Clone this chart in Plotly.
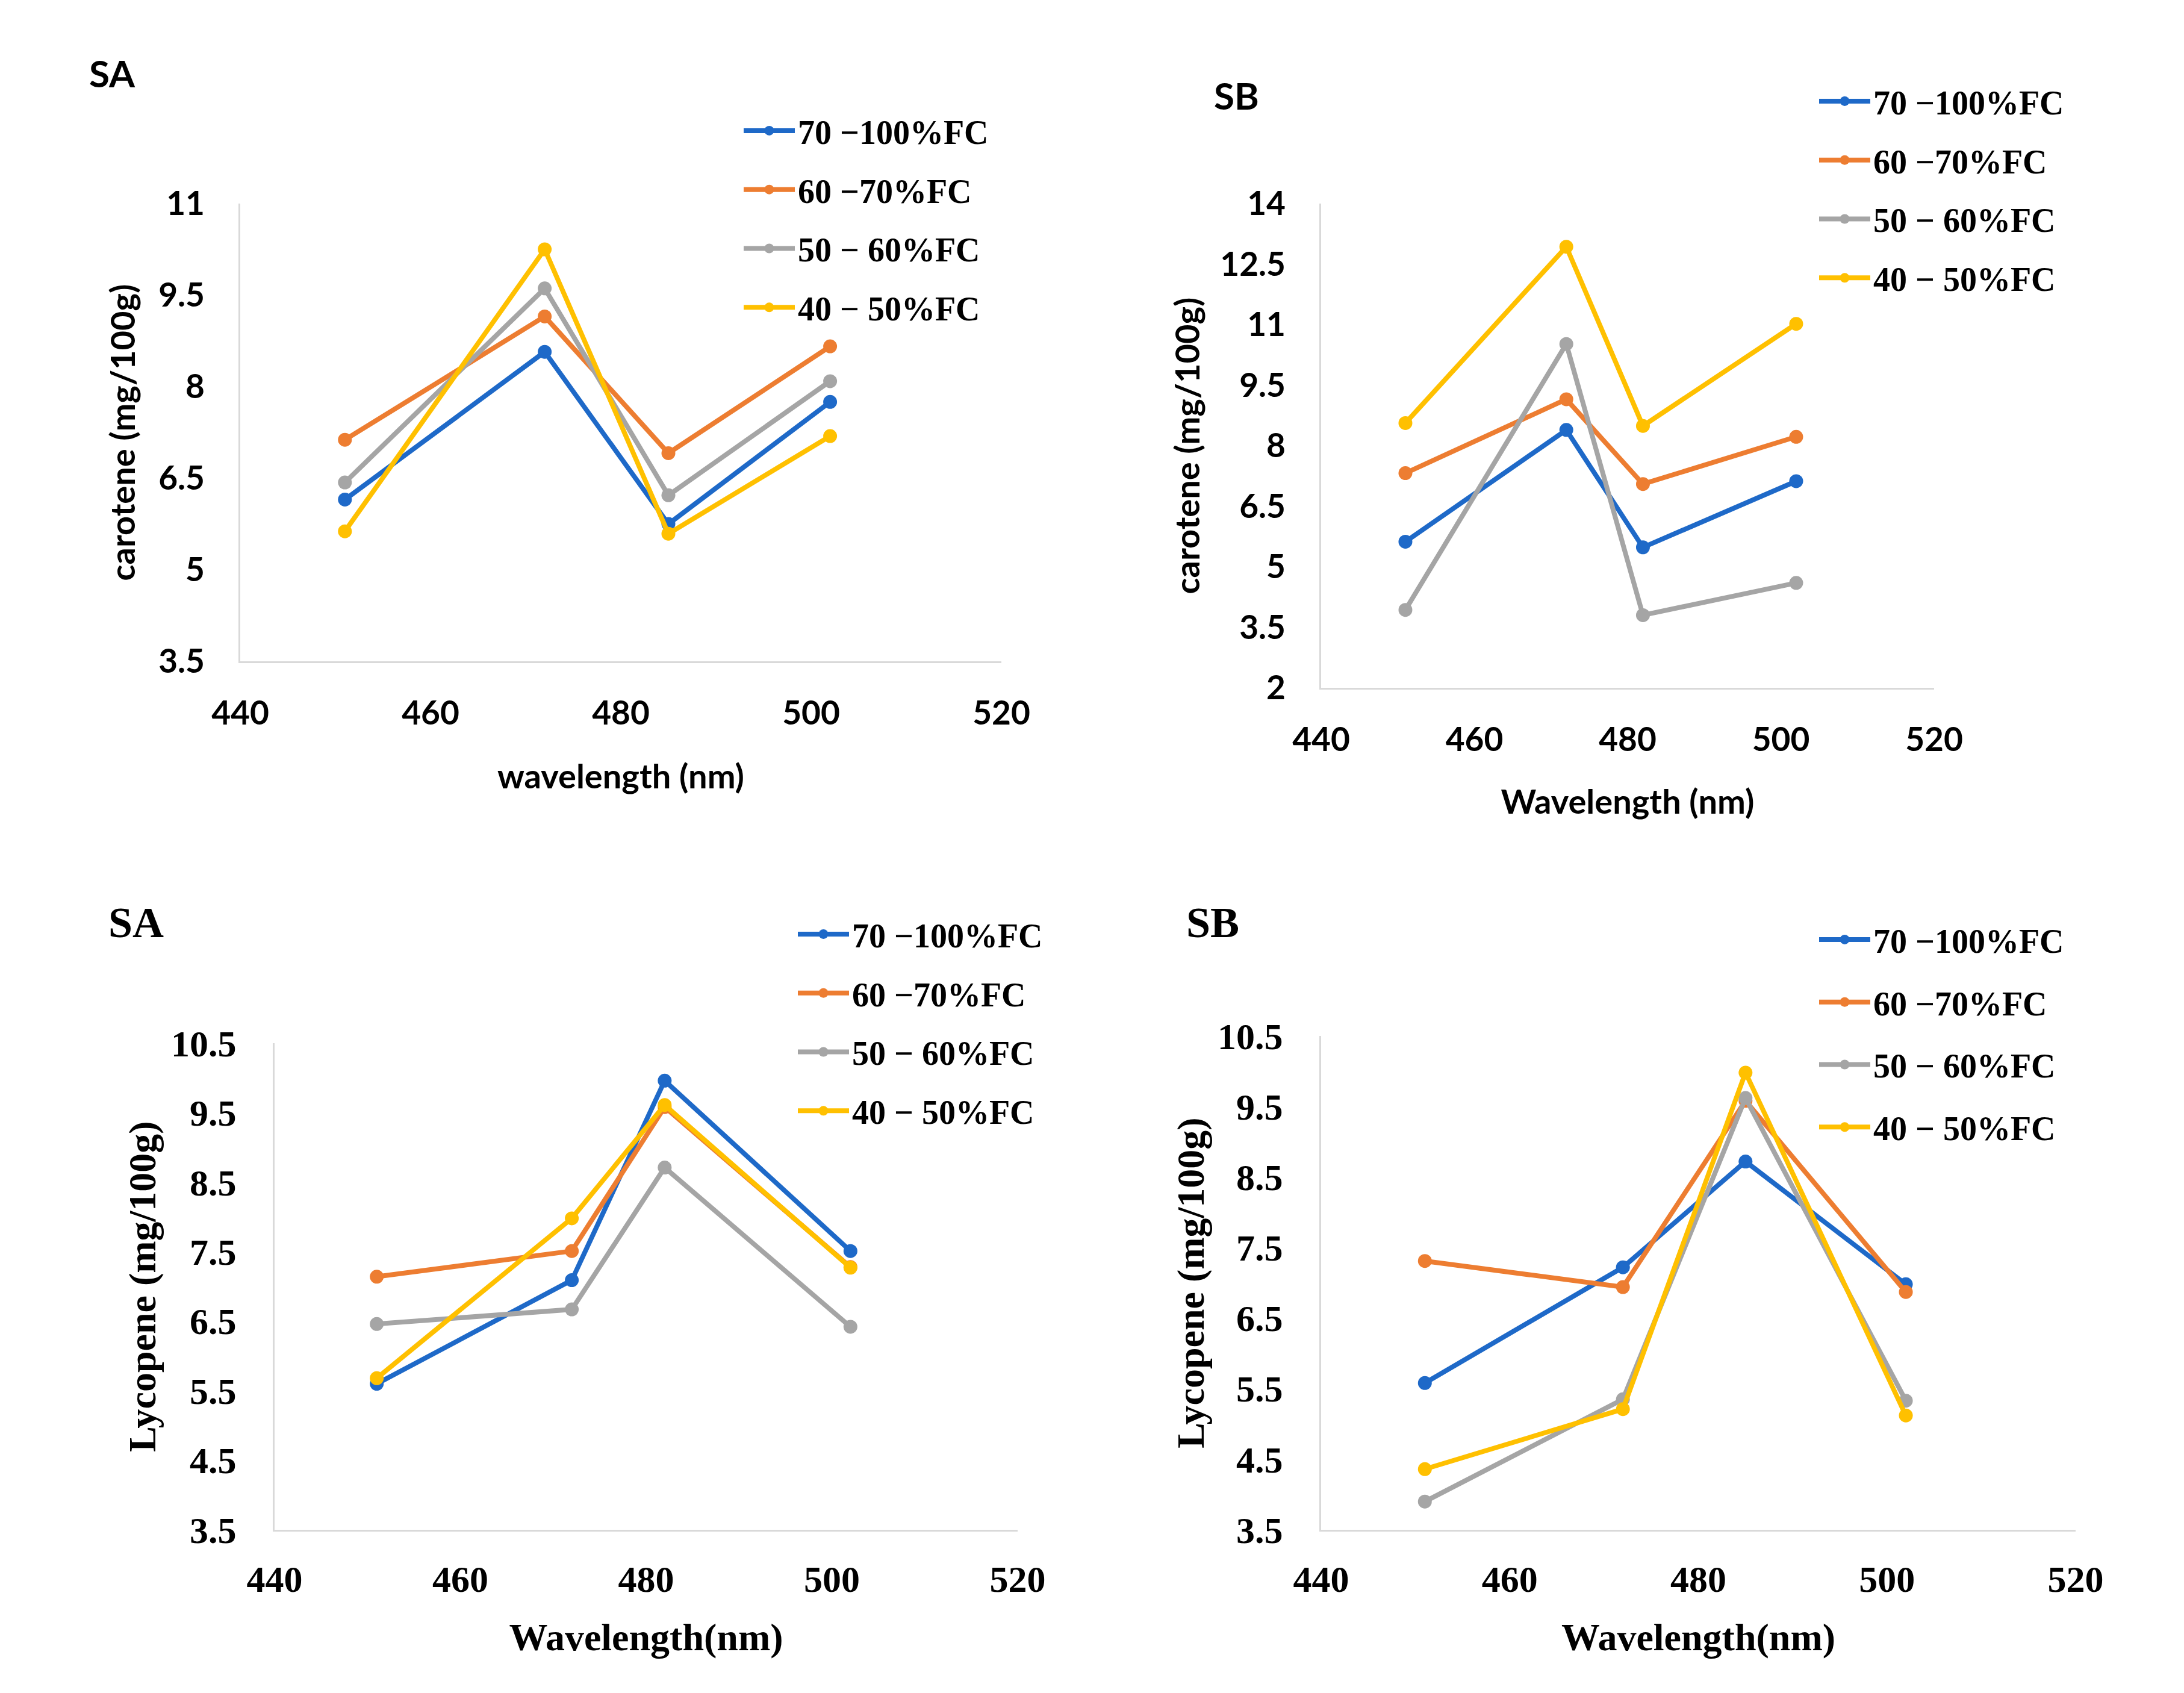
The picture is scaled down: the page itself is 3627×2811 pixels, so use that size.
import plotly.graph_objects as go

W, H = 3627, 2811
SHIFT = 8  # page offset compensation (px)

series_names = ["70 −100%FC", "60 −70%FC", "50 − 60%FC", "40 − 50%FC"]
colors = ["#1E69C8", "#ED7D31", "#A5A5A5", "#FFC000"]

# Carotene, SA
car_sa_x = [451, 472, 485, 502]
car_sa_100 = [6.15, 8.57, 5.75, 7.75]
car_sa_70 = [7.13, 9.15, 6.91, 8.66]
car_sa_60 = [6.43, 9.61, 6.22, 8.09]
car_sa_50 = [5.63, 10.25, 5.59, 7.19]

# Carotene, SB
car_sb_x = [451, 472, 482, 502]
car_sb_100 = [5.62, 8.39, 5.48, 7.12]
car_sb_70 = [7.32, 9.15, 7.05, 8.22]
car_sb_60 = [3.93, 10.52, 3.80, 4.60]
car_sb_50 = [8.56, 12.93, 8.49, 11.02]

# Lycopene, SA
lyc_sa_x = [451, 472, 482, 502]
lyc_sa_100 = [5.60, 7.09, 9.96, 7.51]
lyc_sa_70 = [7.14, 7.51, 9.58, 7.28]
lyc_sa_60 = [6.46, 6.67, 8.71, 6.42]
lyc_sa_50 = [5.68, 7.98, 9.61, 7.27]

# Lycopene, SB
lyc_sb_x = [451, 472, 485, 502]
lyc_sb_100 = [5.58, 7.22, 8.72, 6.98]
lyc_sb_70 = [7.31, 6.94, 9.58, 6.87]
lyc_sb_60 = [3.90, 5.35, 9.62, 5.33]
lyc_sb_50 = [4.36, 5.21, 9.98, 5.12]

SANS = "Lato"
SERIF = "Liberation Serif"


def fx(px):
    return (px - SHIFT) / W


def fy(py):
    return 1 - (py - SHIFT) / H


panels = [
    dict(x=car_sa_x, ys=[car_sa_100, car_sa_70, car_sa_60, car_sa_50]),
    dict(x=car_sb_x, ys=[car_sb_100, car_sb_70, car_sb_60, car_sb_50]),
    dict(x=lyc_sa_x, ys=[lyc_sa_100, lyc_sa_70, lyc_sa_60, lyc_sa_50]),
    dict(x=lyc_sb_x, ys=[lyc_sb_100, lyc_sb_70, lyc_sb_60, lyc_sb_50]),
]

fig = go.Figure()
for i, p in enumerate(panels):
    sfx = "" if i == 0 else str(i + 1)
    for j, (name, ys) in enumerate(zip(series_names, p["ys"])):
        fig.add_trace(go.Scatter(
            x=p["x"], y=ys, name=name, mode="lines+markers",
            line=dict(color=colors[j], width=8),
            marker=dict(color=colors[j], size=23),
            xaxis="x" + sfx, yaxis="y" + sfx,
            legend="legend" + sfx, legendgroup=f"g{i}_{j}",
            cliponaxis=False,
        ))


def xax(domain, anchor, title, family, tsize, lsize, standoff, tls):
    return dict(domain=domain, anchor=anchor, range=[440, 520], dtick=20, tick0=440,
                showline=True, linecolor="#D9D9D9", linewidth=3, showgrid=False,
                zeroline=False, ticks="", ticklabelstandoff=tls, automargin=False,
                tickfont=dict(family=family, size=tsize, color="black", weight="bold"),
                title=dict(text=title, standoff=standoff,
                           font=dict(family=family, size=lsize, color="black", weight="bold")))


def yax(domain, anchor, rng, dtick, title, family, tsize, lsize, standoff, tls):
    return dict(domain=domain, anchor=anchor, range=rng, dtick=dtick, tick0=rng[0],
                showline=True, linecolor="#D9D9D9", linewidth=3, showgrid=False,
                zeroline=False, ticks="", ticklabelstandoff=tls, automargin=False,
                tickfont=dict(family=family, size=tsize, color="black", weight="bold"),
                title=dict(text=title, standoff=standoff,
                           font=dict(family=family, size=lsize, color="black", weight="bold")))


def leg(x, y, gap=22):
    return dict(x=x, y=y, xanchor="left", yanchor="top", bgcolor="white",
                traceorder="grouped", tracegroupgap=gap, itemwidth=85,
                font=dict(family=SERIF, size=56, color="black", weight="bold"))


def title_ann(text, x, y, family, size):
    return dict(text=text, x=fx(x), y=fy(y), xref="paper", yref="paper",
                xanchor="center", yanchor="middle", showarrow=False,
                font=dict(family=family, size=size, color="black", weight="bold"))


fig.update_layout(
    width=W, height=H, autosize=False,
    paper_bgcolor="white", plot_bgcolor="white",
    margin=dict(l=0, r=0, t=0, b=0, pad=0, autoexpand=False),
    showlegend=True,
    xaxis=xax([fx(399), fx(1663)], "y", "wavelength (nm)", SANS, 55, 56, 56, 36),
    yaxis=yax([fy(1098), fy(338)], "x", [3.5, 11], 1.5, "carotene (mg/100g)", SANS, 55, 56, 21, 45),
    xaxis2=xax([fx(2194), fx(3212)], "y2", "Wavelength (nm)", SANS, 55, 56, 54, 36),
    yaxis2=yax([fy(1142), fy(338)], "x2", [2, 14], 1.5, "carotene (mg/100g)", SANS, 55, 56, 16, 45),
    xaxis3=xax([fx(456), fx(1690)], "y3", "Wavelength(nm)", SERIF, 62, 64, 40, 26),
    yaxis3=yax([fy(2540), fy(1732)], "x3", [3.5, 10.5], 1, "Lycopene (mg/100g)", SERIF, 62, 64, 5, 48),
    xaxis4=xax([fx(2194), fx(3447)], "y4", "Wavelength(nm)", SERIF, 62, 64, 40, 26),
    yaxis4=yax([fy(2540), fy(1720)], "x4", [3.5, 10.5], 1, "Lycopene (mg/100g)", SERIF, 62, 64, 2, 48),
    legend=leg(fx(1250 + 5 - 25), fy(181 - 7)),
    legend2=leg(fx(3050 - 9 - 25), fy(131 - 6)),
    legend3=leg(fx(1357 - 12 - 25), fy(1512 - 4)),
    legend4=leg(fx(3050 - 9 - 25), fy(1526 - 9), gap=28),
    annotations=[
        title_ann("SA", 186, 121, SANS, 62),
        title_ann("SB", 2053, 158, SANS, 62),
        title_ann("SA", 226, 1532, SERIF, 72),
        title_ann("SB", 2014, 1532, SERIF, 72),
    ],
)

fig.write_html("out.html")
